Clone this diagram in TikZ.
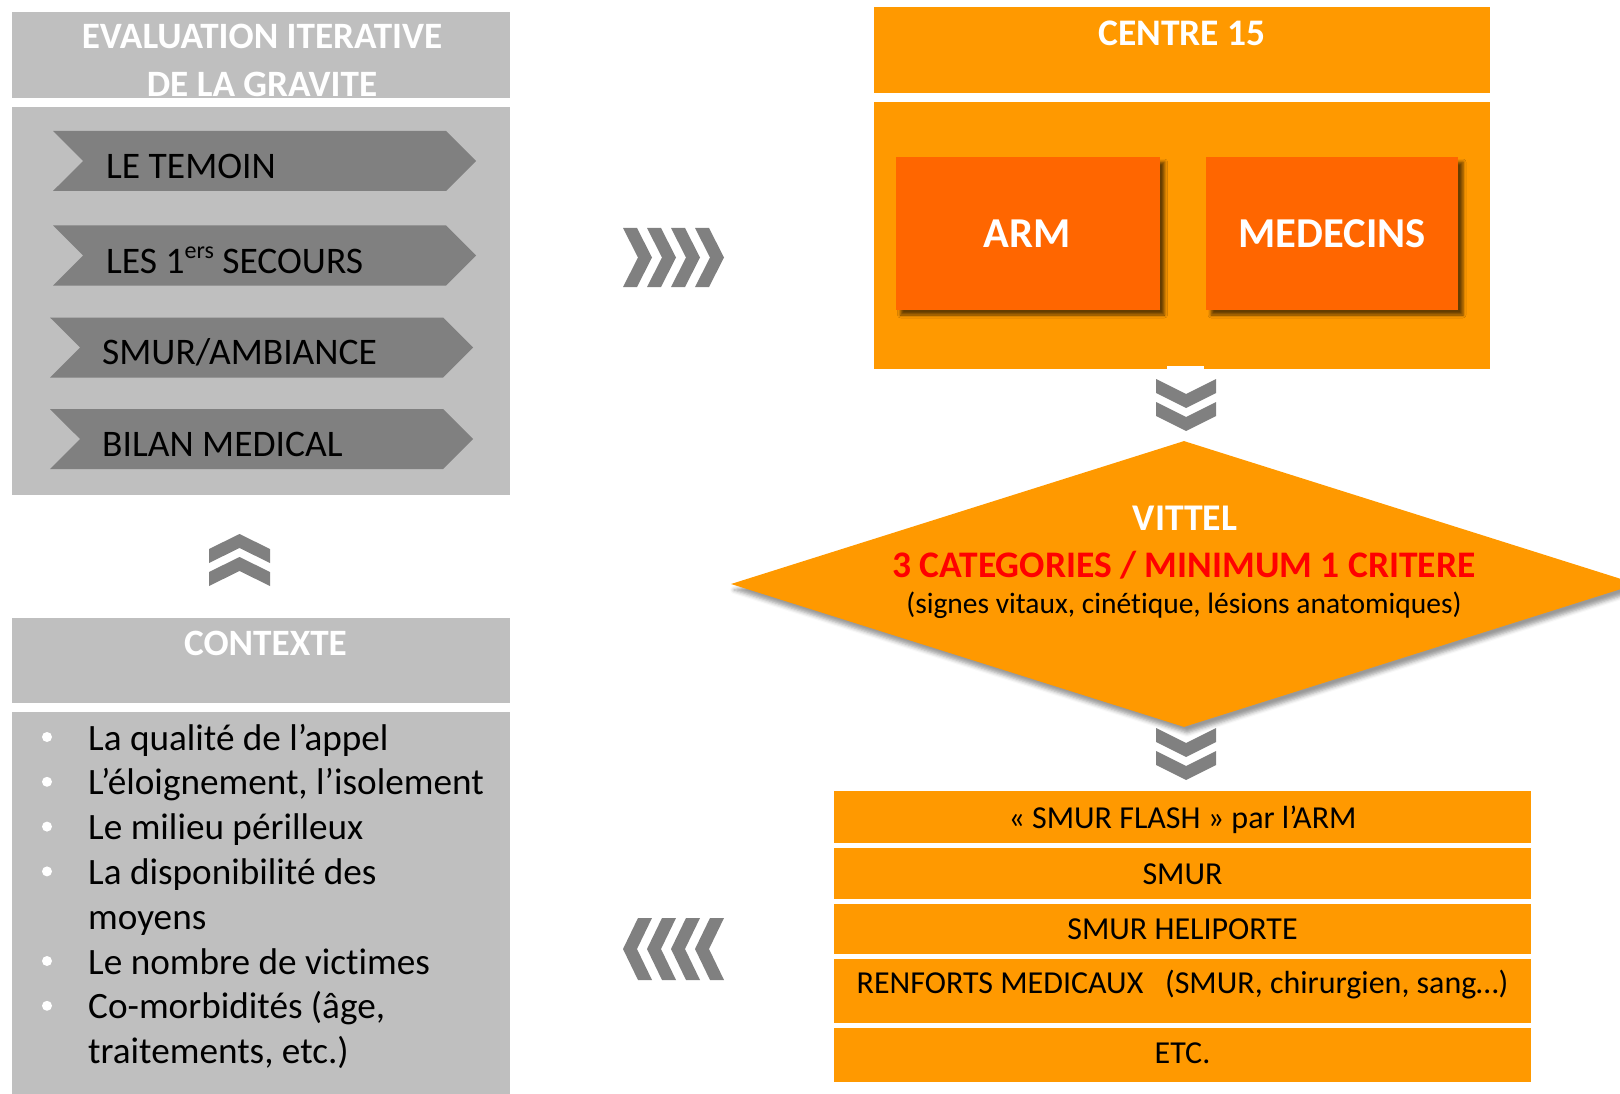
\documentclass[tikz,border=0pt]{standalone}
\usepackage{fontspec}
\setmainfont{Carlito}[Ligatures={TeX,NoCommon}]
\usepackage{tikz}
\usetikzlibrary{shapes.geometric, shapes.symbols, shadows.blur}
\definecolor{boxgray}{RGB}{191,191,191}
\definecolor{chevgray}{RGB}{128,128,128}
\definecolor{lightorange}{RGB}{255,153,0}
\definecolor{deeporange}{RGB}{255,102,0}
\definecolor{alertred}{RGB}{255,0,0}
\newcommand{\fsz}[1]{\fontsize{#1}{#1}\selectfont}

\begin{document}
\begin{tikzpicture}[x=1pt, y=-1pt,
    graybox/.style={fill=boxgray, anchor=north west, inner sep=0pt},
    orangebox/.style={fill=lightorange, anchor=north west, inner sep=0pt},
    headtxt/.style={text=white, font=\bfseries\fsz{37.2}, anchor=base, inner sep=0pt},
    stage/.style={signal, signal from=west, signal to=east, signal pointer angle=90,
        fill=chevgray, minimum width=423pt, minimum height=60pt, inner sep=0pt},
    stagetxt/.style={font=\fsz{37.5}, anchor=base west, inner sep=0pt},
    listtxt/.style={font=\fsz{37.2}, anchor=base west, inner sep=0pt},
    actor/.style={fill=deeporange, minimum width=264pt, minimum height=153pt, inner sep=0pt,
        text=white, font=\bfseries\fsz{42.6},
        blur shadow={shadow xshift=5pt, shadow yshift=-5pt, shadow blur radius=3pt, shadow opacity=60}},
    rowbox/.style={fill=lightorange, minimum width=697pt, inner sep=0pt},
    rowtxt/.style={font=\fsz{32}, anchor=base, inner sep=0pt},
    arrowbit/.style={fill=chevgray}]
    \useasboundingbox (0,0) rectangle (1620,1094);
    \clip (0,0) rectangle (1620,1094);

    % left column: evaluation
    \node[graybox, minimum width=498pt, minimum height=86pt] (evalhead) at (12,12) {};
    \node[headtxt] (evaltitle) at (262,49) {EVALUATION ITERATIVE};
    \node[headtxt] (evaltitleb) at (262,97) {DE LA GRAVITE};
    \node[graybox, minimum width=498pt, minimum height=388pt] (evalbody) at (12,107) {};

    \node[stage] (temoin) at (264.5,161) {};
    \node[stagetxt] (temointxt) at (106,179) {LE TEMOIN};
    \node[stage] (secours) at (264.5,255.5) {};
    \node[stagetxt] (secourstxt) at (106,273) {LES 1\raisebox{15pt}{\fsz{24}ers} SECOURS};
    \node[stage] (ambiance) at (261.5,347.5) {};
    \node[stagetxt] (ambiancetxt) at (102,364) {SMUR/AMBIANCE};
    \node[stage] (bilan) at (261.5,439) {};
    \node[stagetxt] (bilantxt) at (102,456) {BILAN MEDICAL};

    % up arrows
    \fill[arrowbit] (209,549) -- (239.5,534) -- (270,549) -- (270,563) -- (239.5,548) -- (209,563) -- cycle;
    \fill[arrowbit] (209,572) -- (239.5,557) -- (270,572) -- (270,586) -- (239.5,571) -- (209,586) -- cycle;

    % left column: context
    \node[graybox, minimum width=498pt, minimum height=85pt] (ctxhead) at (12,618) {};
    \node[headtxt] (ctxtitle) at (265.5,655) {CONTEXTE};
    \node[graybox, minimum width=498pt, minimum height=382pt] (ctxbody) at (12,712) {};

    \fill[white] (47,737) circle (5pt);
    \node[listtxt] (appel) at (88,750) {La qualité de l’appel};
    \fill[white] (47,781.8) circle (5pt);
    \node[listtxt] (isolement) at (88,794.8) {L’éloignement, l’isolement};
    \fill[white] (47,826.6) circle (5pt);
    \node[listtxt] (milieu) at (88,839.6) {Le milieu périlleux};
    \fill[white] (47,871.4) circle (5pt);
    \node[listtxt] (dispo) at (88,884.4) {La disponibilité des};
    \node[listtxt] (dispob) at (88,929.2) {moyens};
    \fill[white] (47,961) circle (5pt);
    \node[listtxt] (victimes) at (88,974) {Le nombre de victimes};
    \fill[white] (47,1005.8) circle (5pt);
    \node[listtxt] (comorb) at (88,1018.8) {Co-morbidités (âge,};
    \node[listtxt] (comorbb) at (88,1063.6) {traitements, etc.)};

    % side arrows
    \fill[arrowbit] (623,228) -- ++(14,0) -- ++(15,29.5) -- ++(-15,29.5) -- ++(-14,0) -- ++(15,-29.5) -- cycle;
    \fill[arrowbit] (647,228) -- ++(14,0) -- ++(15,29.5) -- ++(-15,29.5) -- ++(-14,0) -- ++(15,-29.5) -- cycle;
    \fill[arrowbit] (671,228) -- ++(14,0) -- ++(15,29.5) -- ++(-15,29.5) -- ++(-14,0) -- ++(15,-29.5) -- cycle;
    \fill[arrowbit] (695,228) -- ++(14,0) -- ++(15,29.5) -- ++(-15,29.5) -- ++(-14,0) -- ++(15,-29.5) -- cycle;

    \fill[arrowbit] (623,949) -- ++(15,-31) -- ++(14,0) -- ++(-15,31) -- ++(15,31) -- ++(-14,0) -- cycle;
    \fill[arrowbit] (647,949) -- ++(15,-31) -- ++(14,0) -- ++(-15,31) -- ++(15,31) -- ++(-14,0) -- cycle;
    \fill[arrowbit] (671,949) -- ++(15,-31) -- ++(14,0) -- ++(-15,31) -- ++(15,31) -- ++(-14,0) -- cycle;
    \fill[arrowbit] (695,949) -- ++(15,-31) -- ++(14,0) -- ++(-15,31) -- ++(15,31) -- ++(-14,0) -- cycle;

    % right column: centre 15
    \node[orangebox, minimum width=616pt, minimum height=86pt] (centrehead) at (874,7) {};
    \node[headtxt, font=\bfseries\fsz{37.5}] (centretitle) at (1182,46) {CENTRE 15};
    \node[orangebox, minimum width=616pt, minimum height=267pt] (centrebody) at (874,102) {};
    \node[actor] (arm) at (1027.5,233.5) {ARM};
    \node[actor, minimum width=252pt] (medecins) at (1332,233.5) {MEDECINS};
    \fill[white] (1167,366) rectangle (1204,370);

    % down arrows
    \fill[arrowbit] (1156,379) -- (1186,394) -- (1216,379) -- (1216,393) -- (1186,408) -- (1156,393) -- cycle;
    \fill[arrowbit] (1156,402) -- (1186,417) -- (1216,402) -- (1216,416) -- (1186,431) -- (1156,416) -- cycle;

    % triage
    \node[diamond, aspect=3.17, fill=lightorange, minimum width=906pt, minimum height=286pt, inner sep=0pt,
        blur shadow={shadow xshift=3pt, shadow yshift=-6pt, shadow blur radius=4pt, shadow opacity=40}] (vittel) at (1184,584) {};
    \node[headtxt, font=\bfseries\fsz{37.7}] (vitteltxt) at (1185,530) {VITTEL};
    \node[headtxt, text=alertred, font=\bfseries\fsz{37.5}] (criteres) at (1184,577) {3 CATEGORIES / MINIMUM 1 CRITERE};
    \node[rowtxt, font=\fsz{29.5}] (signes) at (1184,613) {(signes vitaux, cinétique, lésions anatomiques)};

    \fill[arrowbit] (1156,728) -- (1186,743) -- (1216,728) -- (1216,742) -- (1186,757) -- (1156,742) -- cycle;
    \fill[arrowbit] (1156,751) -- (1186,766) -- (1216,751) -- (1216,765) -- (1186,780) -- (1156,765) -- cycle;

    % means engaged
    \node[rowbox, minimum height=52pt] (rowflash) at (1182.5,817) {};
    \node[rowtxt] (flashtxt) at (1182.5,828) {« SMUR FLASH » par l’ARM};
    \node[rowbox, minimum height=51pt] (rowsmur) at (1182.5,873.5) {};
    \node[rowtxt] (smurtxt) at (1182.5,884) {SMUR};
    \node[rowbox, minimum height=50pt] (rowheli) at (1182.5,929) {};
    \node[rowtxt] (helitxt) at (1182.5,939) {SMUR HELIPORTE};
    \node[rowbox, minimum height=64pt] (rowrenfort) at (1182.5,991) {};
    \node[rowtxt] (renforttxt) at (1182.5,993) {RENFORTS MEDICAUX\hspace{0.68em}(SMUR, chirurgien, sang…)};
    \node[rowbox, minimum height=54pt] (rowetc) at (1182.5,1055) {};
    \node[rowtxt] (etctxt) at (1182.5,1063) {ETC.};
\end{tikzpicture}
\end{document}
